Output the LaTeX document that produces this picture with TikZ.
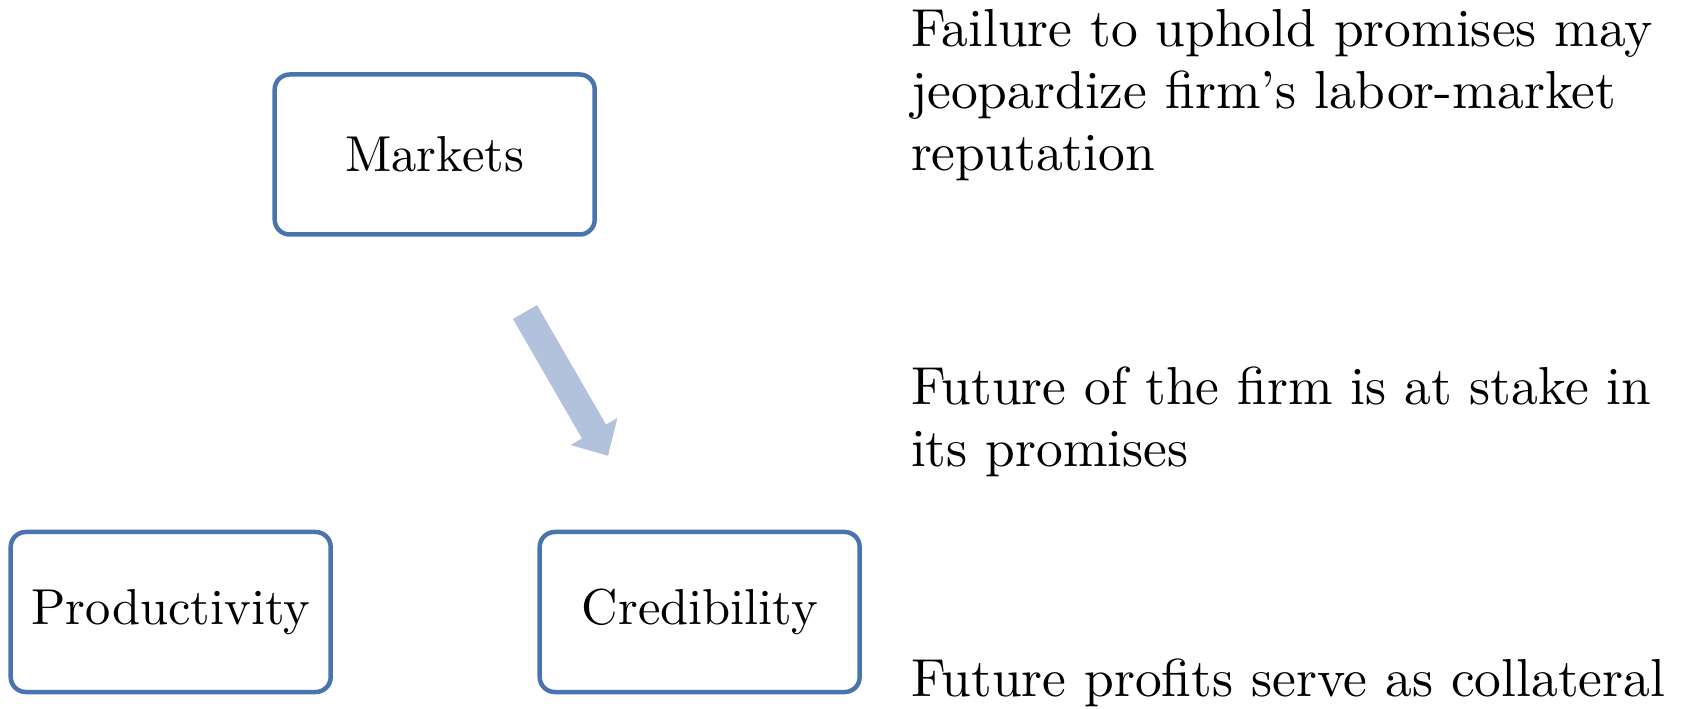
\documentclass[tikz,border=0pt]{standalone}
\usepackage{tikz}
\usetikzlibrary{positioning}
\definecolor{boxblue}{RGB}{74,116,173}
\definecolor{arrowblue}{RGB}{178,194,221}

\begin{document}
\begin{tikzpicture}[x=0.2pt, y=0.2pt,
      box/.style={draw=boxblue, line width=0.9pt, rounded corners=3pt, minimum width=64pt, minimum height=32pt, inner sep=0pt, font=\fontsize{10.1}{12}\selectfont},
      note/.style={anchor=north west, inner sep=0pt, font=\fontsize{10.7}{12.4}\selectfont},
      every node/.style={align=left}]
    \useasboundingbox (0,0) rectangle (1683,708);
    \node[box](prod) at (170.7,96) {Productivity};
    \node[box, right=40.9pt of prod](cred) {Credibility};
    \node[box](mkt) at (434.7,553.5) {Markets};

    \coordinate (tail) at (525,396);
    \fill[arrowblue, shift={(tail)}, rotate=-60] (0,-13.9) -- (138,-13.9) -- (138,-27) -- (166,0) -- (138,27) -- (138,13.9) -- (0,13.9) -- cycle;

    \node[note](fail) at (910,700.1) {Failure to uphold promises may \\ jeopardize firm's labor-market \\ reputation};
    \node[note](stake) at (910,342.1) {Future of the firm is at stake in \\ its promises};
    \node[note](coll) at (910,50.1) {Future profits serve as collateral};
  \end{tikzpicture}
\end{document}
